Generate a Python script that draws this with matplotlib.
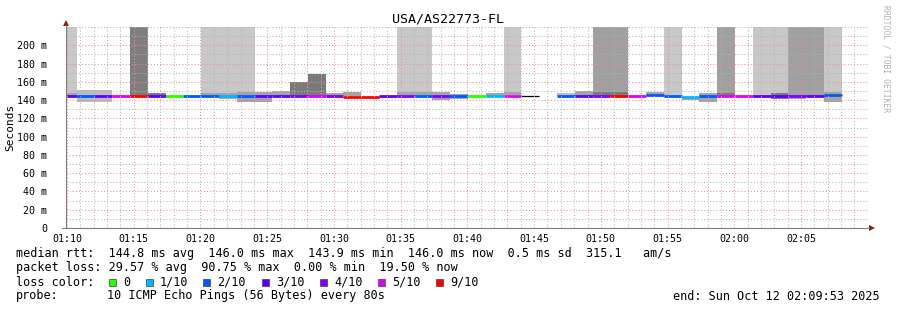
import numpy as np
import matplotlib
matplotlib.use("Agg")
import matplotlib.pyplot as plt
from matplotlib.patches import Rectangle, Polygon
from matplotlib.lines import Line2D

plt.rcParams['font.family'] = ['DejaVu Sans Mono', 'DejaVu Sans']

W, H = 897, 310

# one sample every 80 s, first one starts 37 s before 01:10:00
first_start_s = -37
step_s = 80

# median rtt per sample (ms), nan = no data
median_ms = [144.5, 144.6, 144.6, 144.5, 144.2, 144.2, 144.2, 144.9, 144.4, 144.2,
             144.4, 144.0, 144.2, 144.6, 144.6, 144.5, 143.9, 143.9, 144.6, 144.6,
             144.3, 144.3, 144.5, 144.2, 144.2, 145.0, 145.0, np.nan, 144.2, 144.2,
             144.2, 144.2, 144.5, 145.3, 144.5, 143.9, 144.2, 144.5, 144.5, 144.5,
             144.5, 144.2, 144.2, 146.0]
# lost pings out of 10 (-1 = unknown)
loss = [3, 2, 3, 5, 9, 3, 0, 2, 2, 1,
        2, 3, 3, 4, 5, 4, 9, 9, 3, 4,
        2, 4, 2, 0, 1, 5, -1, -1, 2, 3,
        4, 9, 5, 2, 2, 1, 2, 5, 5, 3,
        3, 4, 3, 2]
# smoke band (ms)
smoke_lo = [143.0, 137.8, 137.8, np.nan, 144.0, 145.0, np.nan, np.nan, 145.0, 141.2,
            138.4, 138.4, 144.0, 144.0, 144.0, 144.0, 144.5, np.nan, 142.8, 145.0,
            145.0, 140.0, 141.2, np.nan, 144.5, 146.0, np.nan, np.nan, 144.5, 144.5,
            145.0, 145.0, np.nan, 145.0, 143.0, 139.8, 138.4, 145.0, np.nan, 143.0,
            141.2, 141.0, 143.0, 138.4]
smoke_hi = [147.8, 150.7, 150.7, np.nan, 147.8, 147.8, np.nan, np.nan, 147.8, 147.8,
            149.3, 148.6, 150.0, 159.5, 169.0, 148.0, 148.6, np.nan, 144.5, 149.3,
            149.3, 149.3, 147.0, np.nan, 147.8, 149.3, np.nan, np.nan, 147.8, 150.0,
            148.6, 148.6, np.nan, 148.6, 145.0, 143.0, 147.8, 148.0, np.nan, 145.0,
            147.8, 145.0, 145.0, 149.3]
smoke_level = [2, 1, 1, 0, 3, 3, 0, 0, 2, 2,
               2, 2, 2, 3, 3, 2, 2, 0, 2, 2,
               2, 2, 2, 0, 2, 2, 0, 0, 1, 2,
               3, 3, 0, 2, 2, 2, 2, 3, 0, 2,
               3, 2, 2, 2]
# smoke running off the top of the graph (0 none, 1 light, 2 medium, 3 dark)
top_level = [1, 0, 0, 0, 3, 0, 0, 0, 1, 1,
             1, 0, 0, 0, 0, 0, 0, 0, 0, 1,
             1, 0, 0, 0, 0, 1, 0, 0, 0, 0,
             2, 2, 0, 0, 1, 0, 0, 2, 0, 1,
             1, 2, 2, 1]

tick_labels = ["01:10", "01:15", "01:20", "01:25", "01:30", "01:35",
               "01:40", "01:45", "01:50", "01:55", "02:00", "02:05"]
y_labels = ["0", "20 m", "40 m", "60 m", "80 m", "100 m", "120 m",
            "140 m", "160 m", "180 m", "200 m"]

loss_keys = [0, 1, 2, 3, 4, 5, 9]
loss_names = ["0", "1/10", "2/10", "3/10", "4/10", "5/10", "9/10"]
loss_colors = ["#26ff00", "#00b8ff", "#0059ff", "#5e00ff", "#7e00ff", "#dd00ff", "#ff0000"]

smoke_colors = {1: "#bcbcbc", 2: "#a4a4a4", 3: "#7a7a7a"}
top_colors = {1: "#c8c8c8", 2: "#a0a0a0", 3: "#7e7e7e"}


def loss_color(n):
    if n < 0:
        return "black"
    for k, c in zip(loss_keys[::-1], loss_colors[::-1]):
        if n >= k:
            return c


def fx(x):
    return x / W


def fy(y):
    return 1 - y / H


fig = plt.figure(figsize=(W / 100, H / 100), dpi=100)
ax = fig.add_axes([fx(66), fy(228), (868 - 66) / W, (228 - 27) / H])

starts = first_start_s + step_s * np.arange(len(median_ms))
med = np.array(median_ms)
lo = np.array(smoke_lo)
hi = np.array(smoke_hi)
ymax = 220

# tall smoke
for s, m, l, t in zip(starts, med, lo, top_level):
    if t == 0:
        continue
    bot = l if not np.isnan(l) else m
    ax.bar(s, ymax - bot, bottom=bot, width=step_s, align='edge',
           color=top_colors[t], linewidth=0, zorder=1)

# smoke band
for s, l, h, lev in zip(starts, lo, hi, smoke_level):
    if lev == 0 or np.isnan(l):
        continue
    ax.bar(s, h - l, bottom=l, width=step_s, align='edge',
           color=smoke_colors[lev], linewidth=0, zorder=1.2)

# median
for s, m, n in zip(starts, med, loss):
    if np.isnan(m):
        continue
    if n < 0:
        ax.hlines(m, s, s + step_s, color="black", lw=0.9, zorder=1.6)
    else:
        ax.hlines(m, s, s + step_s, color=loss_color(n), lw=2.0, zorder=1.5)

ax.set_xlim(-4.5, 3601)
ax.set_ylim(0, ymax)

ax.set_xticks(np.arange(0, 3301, 300))
ax.set_xticklabels(tick_labels)
ax.set_xticks(np.arange(0, 3601, 60), minor=True)
ax.set_yticks(np.arange(0, 201, 20))
ax.set_yticklabels(y_labels)
ax.set_yticks(np.arange(0, 221, 10), minor=True)

ax.grid(which='minor', color='#b4b4b4', lw=0.75, linestyle=(0, (1, 2)))
ax.grid(which='major', color='#eb9090', lw=0.75, linestyle=(0, (1, 2)))
ax.set_axisbelow(False)
ax.tick_params(which='both', length=0)
ax.tick_params(axis='x', labelsize=7.2, pad=4)
ax.tick_params(axis='y', labelsize=7.2, pad=13.7)
for sp in ax.spines.values():
    sp.set_visible(False)

# axes with arrows
fig.add_artist(Line2D([fx(66), fx(66)], [fy(228), fy(25)], color='#808080', lw=0.8))
fig.add_artist(Line2D([fx(62), fx(869)], [fy(228), fy(228)], color='#808080', lw=0.8))
fig.add_artist(Polygon([(fx(63), fy(26)), (fx(69), fy(26)), (fx(66), fy(20))],
                       closed=True, color='#8a1c1c', lw=0))
fig.add_artist(Polygon([(fx(869), fy(225)), (fx(869), fy(231)), (fx(875), fy(228))],
                       closed=True, color='#8a1c1c', lw=0))

fig.text(fx(448), fy(19), "USA/AS22773-FL", ha='center', va='center', fontsize=9.6)
fig.text(fx(10), fy(127), "Seconds", rotation=90, ha='center', va='center', fontsize=8)
fig.text(fx(886), fy(5), "RRDTOOL / TOBI OETIKER", rotation=270, ha='center', va='top',
         fontsize=5.8, color='#b0b0b0')

fs = 8.5
fig.text(fx(16), fy(254), "median rtt:  144.8 ms avg  146.0 ms max  143.9 ms min  "
         "146.0 ms now  0.5 ms sd  315.1   am/s", va='center', fontsize=fs)
fig.text(fx(16), fy(268), "packet loss: 29.57 % avg  90.75 % max  0.00 % min  19.50 % now",
         va='center', fontsize=fs)
fig.text(fx(16), fy(282), "loss color:", va='center', fontsize=fs)
box_x = [109, 146, 203, 262, 320, 378, 436]
for bx, name, c in zip(box_x, loss_names, loss_colors):
    fig.add_artist(Rectangle((fx(bx), fy(285.5)), 7 / W, 7 / H, facecolor=c,
                             edgecolor='#404040', lw=0.5))
    fig.text(fx(bx + 14), fy(282), name, va='center', fontsize=fs)
fig.text(fx(16), fy(296), "probe:", va='center', fontsize=fs)
fig.text(fx(107), fy(296), "10 ICMP Echo Pings (56 Bytes) every 80s", va='center', fontsize=fs)
fig.text(fx(880), fy(296), "end: Sun Oct 12 02:09:53 2025", ha='right', va='center', fontsize=fs)

fig.savefig("out.png", dpi=100)
